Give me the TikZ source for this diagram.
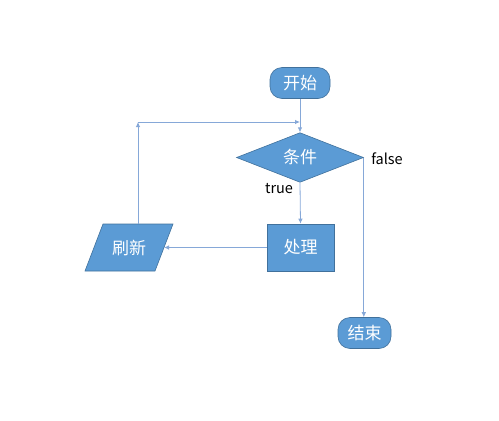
\documentclass[tikz,border=0pt]{standalone}
\usepackage{fontspec}
\setmainfont{Noto Sans CJK SC}
\usetikzlibrary{shapes.geometric,arrows.meta}
\definecolor{boxfill}{HTML}{5B9BD5}
\definecolor{boxline}{HTML}{41719C}
\definecolor{conn}{HTML}{86A8D8}
\tikzset{
  base/.style={fill=boxfill,draw=boxline,line width=0.6pt,text=white,font=\fontsize{17}{20}\selectfont,inner sep=0pt},
  term/.style={base,rounded corners=12pt},
  link/.style={draw=conn,line width=0.8pt,-{Latex[length=5pt,width=4.5pt]}},
  lbl/.style={font=\fontsize{14.5}{17}\selectfont,text=black}
}
\begin{document}
\begin{tikzpicture}[x=1pt,y=-1pt]
\useasboundingbox (0,0) rectangle (499,421);
\node[term,minimum width=60pt,minimum height=31pt] (start) at (300,83) {开始};
\node[base,diamond,minimum width=127pt,minimum height=49pt] (cond) at (300,157.5) {条件};
\node[base,rectangle,minimum width=67pt,minimum height=47pt] (proc) at (300.5,247.5) {处理};
\coordinate (pbl) at (85,271);
\coordinate (ptl) at (103,224);
\coordinate (ptr) at (173,224);
\coordinate (pbr) at (155,271);
\draw[fill=boxfill,draw=boxline,line width=0.6pt] (pbl) -- (ptl) -- (ptr) -- (pbr) -- cycle;
\node[text=white,font=\fontsize{17}{20}\selectfont,inner sep=0pt] (refresh) at (129,247.5) {刷新};
\coordinate (refE) at (164,247.5);
\coordinate (refN) at (138,224);
\node[term,minimum width=53pt,minimum height=31pt] (end) at (364.5,333) {结束};
\coordinate (corner) at (138,122);
\coordinate (join) at (300,122);
\draw[link] (start.south) -- (cond.north);
\draw[link] (cond.south) -- (proc.north);
\draw[link] (cond.east) -- (cond.east |- end.north);
\draw[link] (proc.west) -- (refE);
\draw[link] (refN) -- (corner);
\draw[link] (corner) -- (join);
\node[lbl] (ltrue) at (279,189) {true};
\node[lbl] (lfalse) at (387,159) {false};
\end{tikzpicture}
\end{document}
